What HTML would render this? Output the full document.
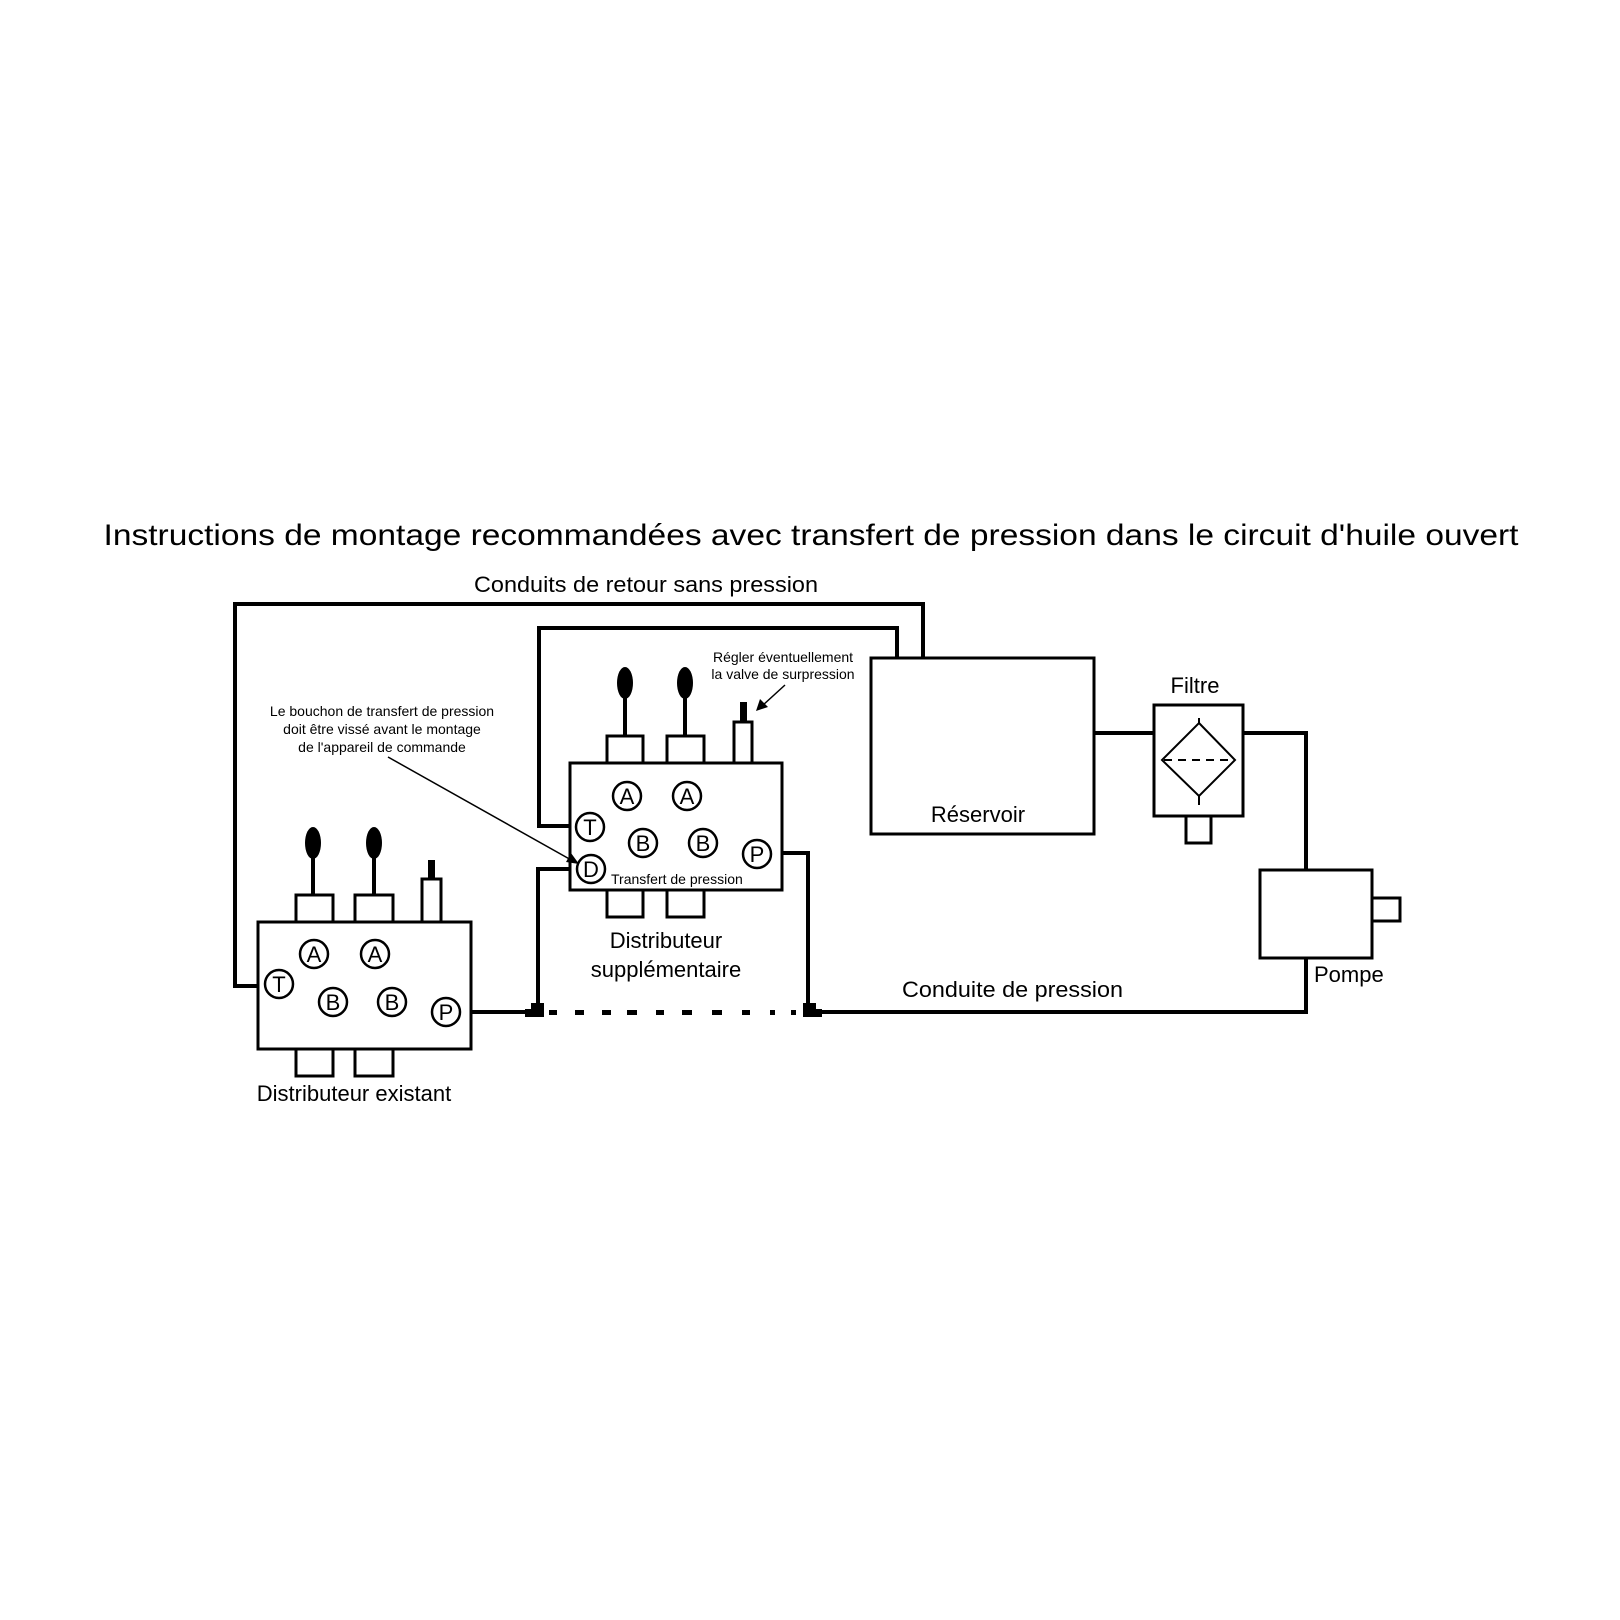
<!DOCTYPE html>
<html><head><meta charset="utf-8"><style>
html,body{margin:0;padding:0;background:#fff}
svg{display:block}
text{font-family:"Liberation Sans",Arial,sans-serif;fill:#000}
</style></head><body>
<svg width="1620" height="1620" viewBox="0 0 1620 1620" xmlns="http://www.w3.org/2000/svg">
<rect width="1620" height="1620" fill="#fff"/>
<text x="811" y="545" font-size="30" text-anchor="middle" textLength="1415" lengthAdjust="spacingAndGlyphs">Instructions de montage recommandées avec transfert de pression dans le circuit d'huile ouvert</text>
<text x="474" y="592" font-size="22" textLength="344" lengthAdjust="spacingAndGlyphs">Conduits de retour sans pression</text>

<g fill="none" stroke="#000" stroke-width="4">
<!-- outer return -->
<polyline points="258,986 235,986 235,604 923,604 923,658"/>
<!-- inner return -->
<polyline points="570,826 539,826 539,628 897,628 897,658"/>
<!-- P line existing -->
<polyline points="471,1012 530,1012"/>
<polyline points="538,1008 538,869 570,869"/>
<!-- supp P -->
<polyline points="782,853 808,853 808,1008"/>
<polyline points="818,1012 1306,1012 1306,958"/>
<!-- reservoir-filter-pump -->
<line x1="1094" y1="733" x2="1154" y2="733"/>
<polyline points="1243,733 1306,733 1306,870"/>
</g>
<g stroke="#000" stroke-width="3" fill="#fff">
<!-- existing distributor -->
<rect x="258" y="922" width="213" height="127"/>
<rect x="296" y="895" width="37" height="27"/>
<rect x="355" y="895" width="38" height="27"/>
<rect x="422" y="879" width="19" height="43"/>
<rect x="296" y="1049" width="37" height="27"/>
<rect x="355" y="1049" width="38" height="27"/>
<!-- supp distributor -->
<rect x="570" y="763" width="212" height="127"/>
<rect x="607" y="736" width="36" height="27"/>
<rect x="667" y="736" width="37" height="27"/>
<rect x="734" y="722" width="18" height="41"/>
<rect x="607" y="890" width="36" height="27"/>
<rect x="667" y="890" width="37" height="27"/>
<!-- reservoir -->
<rect x="871" y="658" width="223" height="176"/>
<!-- filter -->
<rect x="1154" y="705" width="89" height="111"/>
<rect x="1186" y="816" width="25" height="27"/>
<!-- pump -->
<rect x="1260" y="870" width="112" height="88"/>
<rect x="1372" y="898" width="28" height="23"/>
</g>
<!-- levers -->
<g stroke="#000" stroke-width="4">
<line x1="313" y1="850" x2="313" y2="895"/>
<line x1="374" y1="850" x2="374" y2="895"/>
<line x1="625" y1="690" x2="625" y2="736"/>
<line x1="685" y1="690" x2="685" y2="736"/>
</g>
<g fill="#000">
<ellipse cx="313" cy="843" rx="8" ry="16"/>
<ellipse cx="374" cy="843" rx="8" ry="16"/>
<ellipse cx="625" cy="683" rx="8" ry="16"/>
<ellipse cx="685" cy="683" rx="8" ry="16"/>
<rect x="428" y="860" width="7" height="19"/>
<rect x="740" y="702" width="7" height="20"/>
<!-- fittings -->
<path d="M531,1003 H544 V1017 H525 V1009 H531 Z"/>
<path d="M803,1003 H816 V1009 H822 V1017 H803 Z"/>
<!-- dashes -->
<rect x="549" y="1010" width="8" height="5"/><rect x="575" y="1010" width="9" height="5"/>
<rect x="602" y="1010" width="9" height="5"/><rect x="627" y="1010" width="10" height="5"/>
<rect x="656" y="1010" width="8" height="5"/><rect x="682" y="1010" width="10" height="5"/>
<rect x="712" y="1010" width="10" height="5"/><rect x="742" y="1010" width="8" height="5"/>
<rect x="770" y="1010" width="5" height="5"/><rect x="791" y="1010" width="5" height="5"/>
</g>
<!-- filter symbol -->
<g stroke="#000" stroke-width="2" fill="none">
<polygon points="1199,723 1235,760 1199,796 1162,760"/>
<line x1="1199" y1="718" x2="1199" y2="723"/>
<line x1="1199" y1="796" x2="1199" y2="805"/>
<line x1="1164" y1="760" x2="1233" y2="760" stroke-dasharray="8 6"/>
</g>
<!-- port circles -->
<g stroke="#000" stroke-width="2.5" fill="#fff">
<circle cx="314" cy="954" r="14"/><circle cx="375" cy="954" r="14"/>
<circle cx="279" cy="984" r="14"/><circle cx="333" cy="1002" r="14"/>
<circle cx="392" cy="1002" r="14"/><circle cx="446" cy="1012" r="14"/>
<circle cx="627" cy="796" r="14"/><circle cx="687" cy="796" r="14"/>
<circle cx="590" cy="827" r="14"/><circle cx="643" cy="843" r="14"/>
<circle cx="703" cy="843" r="14"/><circle cx="757" cy="854" r="14"/>
<circle cx="591" cy="869" r="14"/>
</g>
<g font-size="22" text-anchor="middle">
<text x="314" y="962">A</text><text x="375" y="962">A</text>
<text x="279" y="992">T</text><text x="333" y="1010">B</text>
<text x="392" y="1010">B</text><text x="446" y="1020">P</text>
<text x="627" y="804">A</text><text x="687" y="804">A</text>
<text x="590" y="835">T</text><text x="643" y="851">B</text>
<text x="703" y="851">B</text><text x="757" y="862">P</text>
<text x="591" y="877">D</text>
</g>
<text x="611" y="884" font-size="14">Transfert de pression</text>
<!-- callouts -->
<g font-size="14" text-anchor="middle">
<text x="382" y="716">Le bouchon de transfert de pression</text>
<text x="382" y="734">doit être vissé avant le montage</text>
<text x="382" y="752">de l'appareil de commande</text>
<text x="783" y="662">Régler éventuellement</text>
<text x="783" y="679">la valve de surpression</text>
</g>
<g stroke="#000" stroke-width="1.5">
<line x1="388" y1="757" x2="573" y2="861"/>
<line x1="785" y1="685" x2="762" y2="706"/>
</g>
<polygon points="579,864 566,862 571,853" fill="#000"/>
<polygon points="756,711 760,699 768,707" fill="#000"/>
<!-- labels -->
<g font-size="22">
<text x="354" y="1101" text-anchor="middle">Distributeur existant</text>
<text x="666" y="948" text-anchor="middle">Distributeur</text>
<text x="666" y="977" text-anchor="middle">supplémentaire</text>
<text x="978" y="822" text-anchor="middle">Réservoir</text>
<text x="1195" y="693" text-anchor="middle">Filtre</text>
<text x="1314" y="982">Pompe</text>
<text x="902" y="997" textLength="221" lengthAdjust="spacingAndGlyphs">Conduite de pression</text>
</g>
</svg>
</body></html>
